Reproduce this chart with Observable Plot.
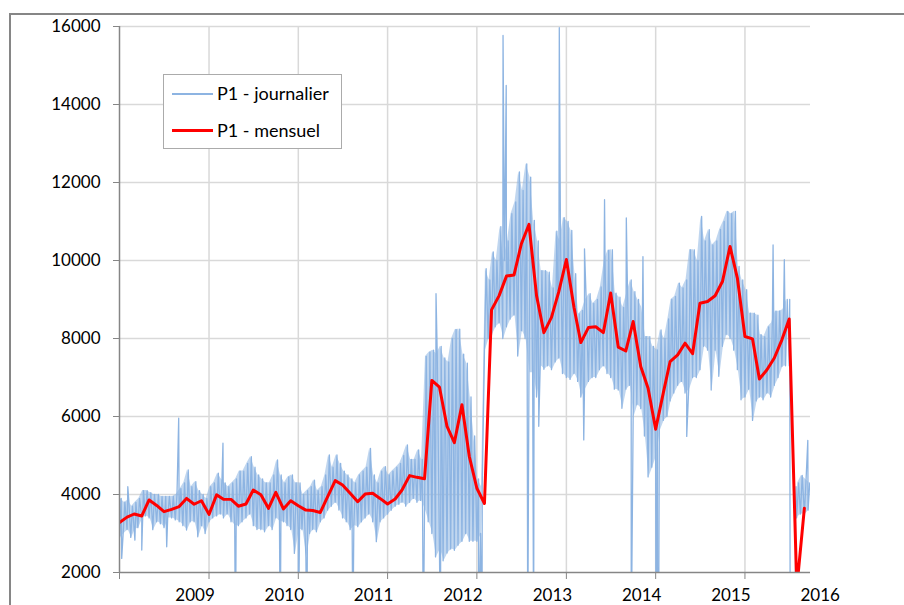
<!DOCTYPE html>
<html>
<head>
<meta charset="utf-8">
<script src="https://cdn.jsdelivr.net/npm/d3@7"></script>
<script src="https://cdn.jsdelivr.net/npm/@observablehq/plot@0.6"></script>
<style>
  body { margin: 0; background: #fff; }
  #wrap { position: relative; width: 904px; height: 605px; overflow: hidden; background: #fff; }
  #frame { position: absolute; left: 9px; top: 13px; width: 1000px; height: 1000px;
           border-left: 2px solid #868686; border-top: 2px solid #868686; }
  #chart { position: absolute; left: 0; top: 0; }
  #legend { position: absolute; left: 163px; top: 74px; width: 177px; height: 73px;
            border: 1px solid #ababab; background: #fff; font-family: Lato, sans-serif; font-size: 18px; color: #000; }
  .sample { position: absolute; left: 8px; width: 41px; }
  .lbl { position: absolute; left: 53px; white-space: nowrap; line-height: 20px; }
</style>
</head>
<body>
<div id="wrap">
  <div id="frame"></div>
  <div id="chart"></div>
  <div id="legend">
    <div class="sample" style="top:18px;height:2px;background:#8db4e2"></div>
    <div class="lbl" style="top:8px">P1 - journalier</div>
    <div class="sample" style="top:54px;height:3px;background:#ff0000"></div>
    <div class="lbl" style="top:45px">P1 - mensuel</div>
  </div>
</div>
<script>
// ---- axis values ----
const yTicks = [2000, 4000, 6000, 8000, 10000, 12000, 14000, 16000];
const tickYears = [2008, 2009, 2010, 2011, 2012, 2013, 2014, 2015];
const gridYears = [2009, 2010, 2011, 2012, 2013, 2014, 2015];
const labelYears = [2009, 2010, 2011, 2012, 2013, 2014, 2015, 2016];
const xStartStr = "2008-01-01";
const xEndStr = "2015-09-26";

// ---- monthly series (P1 - mensuel), one value per month from Jan 2008 ----
const mensuel2008 = [3280, 3420, 3500, 3450, 3860, 3720, 3560, 3620, 3690, 3900, 3750, 3840];
const mensuel2009 = [3490, 3990, 3880, 3875, 3700, 3755, 4115, 3995, 3645, 4055, 3630, 3840];
const mensuel2010 = [3710, 3600, 3590, 3540, 3945, 4355, 4245, 4030, 3815, 4010, 4030, 3900];
const mensuel2011 = [3755, 3885, 4115, 4485, 4440, 4405, 6925, 6755, 5745, 5330, 6300, 4980];
const mensuel2012 = [4160, 3770, 8735, 9100, 9600, 9630, 10430, 10925, 9100, 8150, 8540, 9200];
const mensuel2013 = [10025, 8800, 7895, 8280, 8300, 8150, 9165, 7780, 7680, 8435, 7280, 6725];
const mensuel2014 = [5675, 6600, 7410, 7580, 7880, 7610, 8905, 8950, 9095, 9460, 10360, 9550];
const mensuel2015 = [8050, 7990, 6960, 7200, 7500, 7965, 8500, 1600, 3650];

// ---- daily series (P1 - journalier): low / high read per half-month ----
const lo2008 = [2900,3000,3100,2900,3100,3150,3400,3450,3400,3100,3300,3250,3150,3400,3400,3350,3300,3200,3090,3300,3300,2915,3200,3000];
const hi2008 = [3900,3800,3850,3700,3800,3900,4100,4100,4050,4000,4000,3950,3950,3950,3950,4000,4150,4300,4630,4200,4330,4100,4000,3900];
const lo2009 = [3300,3400,3450,3500,3400,3500,3300,3200,3200,3300,3400,3500,3200,3100,3100,3045,3200,3100,3400,3300,3300,3200,3100,2490];
const hi2009 = [4200,4300,4545,4400,4300,4200,4300,4400,4600,4600,4800,4970,4700,4500,4400,4300,4300,4500,4885,4500,4300,4450,4500,4300];
const lo2010 = [3100,3100,2400,3000,3100,3045,3300,3400,3600,3700,3800,3600,3400,3300,3100,3200,3175,3300,3400,3500,3300,2790,3300,3400];
const hi2010 = [4300,4000,4100,4200,4370,4100,4200,4500,5015,4700,5015,4800,4600,4500,4400,4300,4500,4600,4700,5185,4500,4300,4600,4715];
const lo2011 = [3500,3600,3700,3750,3800,3700,3800,3900,3800,3850,3600,3300,3000,2400,2600,2300,2500,2600,2570,2700,2800,3000,2800,2800];
const hi2011 = [4500,4600,4700,4800,5000,5270,4900,4900,5145,4900,7540,7650,7700,7600,7800,7500,7400,8000,8230,8240,7600,7370,6500,5500];
const lo2012 = [2800,3000,7700,8000,8100,8300,8400,8000,8300,8500,8600,7550,8200,8000,7120,7120,6500,7300,7210,7300,7200,7400,7500,7100];
const hi2012 = [4400,4200,9790,9500,10220,10000,10870,10000,10500,11200,11500,12270,11800,12480,12140,11030,10500,9740,9740,9700,9300,10750,10500,11100];
const lo2013 = [7000,6950,7100,6900,6500,6700,6900,7000,7000,7200,7300,7100,7000,6700,6680,6210,6700,6800,6000,6300,6200,5500,4450,4700];
const hi2013 = [11000,10770,9660,8630,8720,9000,9150,8900,9000,9320,10000,10260,10275,9160,9060,8800,9160,9500,9200,9000,8800,8050,8050,7800];
const lo2014 = [5000,5640,5900,6000,6400,6600,6800,6900,6600,6700,7000,7000,7200,7800,7700,6680,7700,7030,7800,8100,8000,7700,7200,6430];
const hi2014 = [7710,8220,8000,8500,9000,9080,9420,9300,9500,10275,10275,10000,11130,10500,10790,10400,10500,10800,11000,11260,11200,11260,9850,9500];
const lo2015 = [6500,6700,5900,6400,6500,6430,6600,6500,6800,7000,7280,7300,null,null,3430,3500,3500,3600];
const hi2015 = [9250,8650,8650,8600,8100,8050,8300,8400,8700,8700,8740,9000,null,null,4300,4490,4400,4300];

// individual days standing out from the band (spikes, zero days)
const spikeDates = ["2008-01-10","2008-02-04","2008-03-04","2008-04-01","2008-07-12","2008-08-30","2009-02-27","2009-04-19","2009-10-19","2010-01-01","2010-02-05","2010-08-12","2011-05-27","2011-07-18","2011-08-05","2012-01-08","2012-01-22","2012-04-17","2012-04-30","2012-07-27","2012-08-20","2012-09-10","2012-12-03","2013-03-13","2013-03-16","2013-06-06","2013-09-03","2013-09-23","2013-11-10","2014-01-02","2014-01-05","2014-01-09","2014-01-13","2014-05-08","2015-04-26","2015-06-11","2015-07-01","2015-07-03","2015-07-05","2015-07-26","2015-07-27","2015-07-29","2015-07-31","2015-09-15"];
const spikeValues = [2360,4200,2830,2575,2660,5955,5315,0,0,0,0,0,0,9150,0,0,0,15770,14490,0,0,5750,15970,5400,10300,11560,11090,0,10100,0,0,0,0,5490,10400,10020,7300,9000,0,0,3600,4200,3400,5390];

// ---- build tables ----
const utc = s => new Date(s + "T00:00:00Z");
const mensuelYears = [[2008, mensuel2008],[2009, mensuel2009],[2010, mensuel2010],[2011, mensuel2011],[2012, mensuel2012],[2013, mensuel2013],[2014, mensuel2014],[2015, mensuel2015]];
const monthly = [];
for (const [yr, vals] of mensuelYears) vals.forEach((v, m) => monthly.push({date: new Date(Date.UTC(yr, m, 1)), value: v}));

const dailyYears = [[2008, lo2008, hi2008],[2009, lo2009, hi2009],[2010, lo2010, hi2010],[2011, lo2011, hi2011],[2012, lo2012, hi2012],[2013, lo2013, hi2013],[2014, lo2014, hi2014],[2015, lo2015, hi2015]];
const daily = [];
const band = [];
for (const [yr, lo, hi] of dailyYears) {
  lo.forEach((v, h) => {
    const m = Math.floor(h / 2), d = h % 2 ? 16 : 1;
    if (v != null) daily.push({date: new Date(Date.UTC(yr, m, d)), value: v});
    if (hi[h] != null) daily.push({date: new Date(Date.UTC(yr, m, d + 7)), value: hi[h]});
    band.push({date: new Date(Date.UTC(yr, m, d + 4)), lo: v, hi: hi[h]});
  });
}
spikeDates.forEach((s, i) => daily.push({date: utc(s), value: spikeValues[i]}));
daily.sort((a, b) => a.date - b.date);

const xStart = utc(xStartStr), xEnd = utc(xEndStr);
const tickDates = tickYears.map(y => new Date(Date.UTC(y, 0, 1)));
const gridDates = gridYears.map(y => new Date(Date.UTC(y, 0, 1)));
const labelDates = labelYears.map(y => new Date(Date.UTC(y, 0, 1)));

const axisColor = "#868686";
const gridColor = "#d9d9d9";
const blue = "#8db4e2";

const chart = Plot.plot({
  width: 904,
  height: 605,
  marginLeft: 119,
  marginRight: 94,
  marginTop: 26,
  marginBottom: 33,
  style: {fontFamily: "Lato, sans-serif", fontSize: "17px", color: "#000", background: "transparent", overflow: "visible"},
  x: {type: "utc", domain: [xStart, xEnd], label: null},
  y: {domain: [2000, 16000], label: null},
  marks: [
    Plot.gridY(yTicks.filter(v => v > 2000), {stroke: gridColor, strokeOpacity: 1, strokeWidth: 1.5}),
    Plot.gridX(gridDates, {stroke: gridColor, strokeOpacity: 1, strokeWidth: 1.5}),
    Plot.areaY(band, {x: "date", y1: "lo", y2: "hi", fill: blue, fillOpacity: 0.55, defined: d => d.lo != null, clip: true}),
    Plot.line(daily, {x: "date", y: "value", stroke: blue, strokeWidth: 1.3, clip: true}),
    Plot.line(monthly, {x: "date", y: "value", stroke: "#ff0000", strokeWidth: 3, strokeLinejoin: "round", clip: true}),
    Plot.ruleX([xStart], {stroke: axisColor, strokeWidth: 1.5}),
    Plot.ruleY([2000], {stroke: axisColor, strokeWidth: 1.5}),
    Plot.axisY(yTicks, {tickSize: 6, tickPadding: 13, tickFormat: d => String(d), stroke: axisColor, fill: "#000", fontSize: 17}),
    Plot.axisX(tickDates, {tickSize: 7, tickFormat: () => "", stroke: axisColor}),
    Plot.text(labelDates, {x: d => d, text: d => String(d.getUTCFullYear()), frameAnchor: "bottom", lineAnchor: "top", dy: 16, dx: -14, fill: "#000", fontSize: 17})
  ]
});
document.getElementById("chart").appendChild(chart);
</script>
</body>
</html>
